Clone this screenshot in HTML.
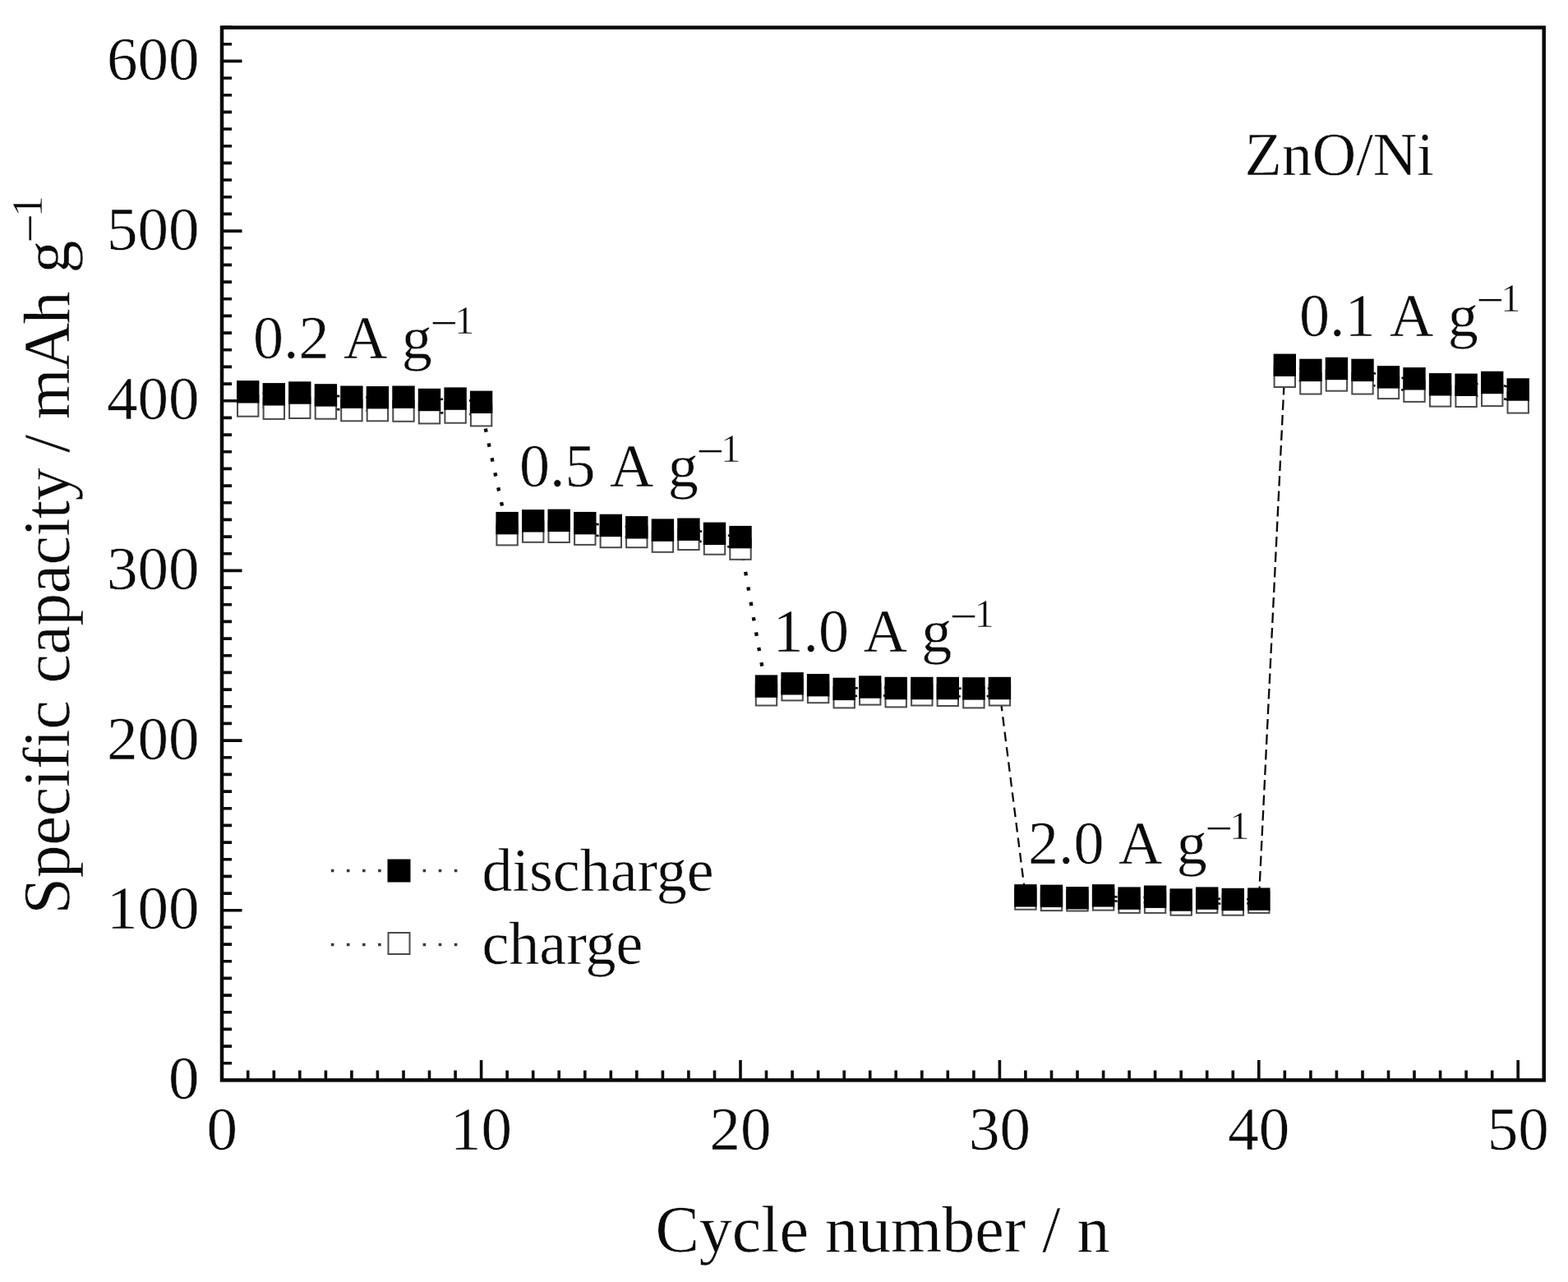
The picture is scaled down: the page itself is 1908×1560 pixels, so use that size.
<!DOCTYPE html>
<html lang="en"><head><meta charset="utf-8"><title>ZnO/Ni rate capability</title>
<style>html,body{margin:0;padding:0;background:#fff;}body{width:1908px;height:1560px;overflow:hidden;}svg{display:block;}text{font-family:"Liberation Serif", "DejaVu Serif", serif;fill:#0a0a0a;stroke:#ffffff;stroke-width:0.5px;}</style>
</head><body>
<svg width="1908" height="1560" viewBox="0 0 1908 1560" role="img" aria-label="Rate capability of ZnO/Ni: specific capacity versus cycle number">
<rect x="0" y="0" width="1908" height="1560" fill="#ffffff"/>
<path d="M270.0 1293.7h12.0M270.0 1273.1h12.0M270.0 1252.4h12.0M270.0 1231.7h12.0M270.0 1211.1h12.0M270.0 1190.4h12.0M270.0 1169.7h12.0M270.0 1149.1h12.0M270.0 1128.4h12.0M270.0 1107.7h24.5M270.0 1087.1h12.0M270.0 1066.4h12.0M270.0 1045.7h12.0M270.0 1025.1h12.0M270.0 1004.4h12.0M270.0 983.7h12.0M270.0 963.1h12.0M270.0 942.4h12.0M270.0 921.7h12.0M270.0 901.1h24.5M270.0 880.4h12.0M270.0 859.7h12.0M270.0 839.1h12.0M270.0 818.4h12.0M270.0 797.7h12.0M270.0 777.1h12.0M270.0 756.4h12.0M270.0 735.7h12.0M270.0 715.1h12.0M270.0 694.4h24.5M270.0 673.7h12.0M270.0 653.1h12.0M270.0 632.4h12.0M270.0 611.7h12.0M270.0 591.1h12.0M270.0 570.4h12.0M270.0 549.7h12.0M270.0 529.1h12.0M270.0 508.4h12.0M270.0 487.7h24.5M270.0 467.1h12.0M270.0 446.4h12.0M270.0 425.7h12.0M270.0 405.1h12.0M270.0 384.4h12.0M270.0 363.7h12.0M270.0 343.1h12.0M270.0 322.4h12.0M270.0 301.7h12.0M270.0 281.1h24.5M270.0 260.4h12.0M270.0 239.7h12.0M270.0 219.0h12.0M270.0 198.4h12.0M270.0 177.7h12.0M270.0 157.0h12.0M270.0 136.4h12.0M270.0 115.7h12.0M270.0 95.0h12.0M270.0 74.4h24.5M270.0 53.7h12.0M270.0 33.0h12.0M301.7 1314.4v-12.0M333.3 1314.4v-12.0M364.8 1314.4v-12.0M396.4 1314.4v-12.0M427.9 1314.4v-12.0M459.4 1314.4v-12.0M491.0 1314.4v-12.0M522.5 1314.4v-12.0M554.1 1314.4v-12.0M585.6 1314.4v-24.5M617.1 1314.4v-12.0M648.7 1314.4v-12.0M680.2 1314.4v-12.0M711.8 1314.4v-12.0M743.3 1314.4v-12.0M774.8 1314.4v-12.0M806.4 1314.4v-12.0M837.9 1314.4v-12.0M869.5 1314.4v-12.0M901.0 1314.4v-24.5M932.5 1314.4v-12.0M964.1 1314.4v-12.0M995.6 1314.4v-12.0M1027.2 1314.4v-12.0M1058.7 1314.4v-12.0M1090.2 1314.4v-12.0M1121.8 1314.4v-12.0M1153.3 1314.4v-12.0M1184.9 1314.4v-12.0M1216.4 1314.4v-24.5M1247.9 1314.4v-12.0M1279.5 1314.4v-12.0M1311.0 1314.4v-12.0M1342.6 1314.4v-12.0M1374.1 1314.4v-12.0M1405.6 1314.4v-12.0M1437.2 1314.4v-12.0M1468.7 1314.4v-12.0M1500.3 1314.4v-12.0M1531.8 1314.4v-24.5M1563.3 1314.4v-12.0M1594.9 1314.4v-12.0M1626.4 1314.4v-12.0M1658.0 1314.4v-12.0M1689.5 1314.4v-12.0M1721.0 1314.4v-12.0M1752.6 1314.4v-12.0M1784.1 1314.4v-12.0M1815.7 1314.4v-12.0M1847.2 1314.4v-24.5" stroke="#0a0a0a" stroke-width="3.6" fill="none"/>
<rect x="270.0" y="33.5" width="1608.7" height="1280.9" fill="none" stroke="#0a0a0a" stroke-width="4.5"/>
<g fill="none" stroke="#0a0a0a">
<polyline points="301.7,476.8 333.3,479.8 364.8,478.0 396.4,480.9 427.9,483.2 459.4,483.7 491.0,483.2 522.5,486.5 554.1,485.1 585.6,489.3" stroke-width="2.6" stroke-dasharray="4 14"/>
<polyline points="301.7,494.0 333.3,497.2 364.8,496.3 396.4,497.0 427.9,499.6 459.4,499.6 491.0,500.1 522.5,502.7 554.1,502.0 585.6,505.7" stroke-width="2.6" stroke-dasharray="4 14"/>
<polyline points="617.1,636.6 648.7,633.8 680.2,633.3 711.8,636.6 743.3,639.4 774.8,641.8 806.4,645.1 837.9,644.2 869.5,649.3 901.0,653.6" stroke-width="2.6" stroke-dasharray="4 14"/>
<polyline points="617.1,650.7 648.7,647.1 680.2,647.3 711.8,650.2 743.3,653.5 774.8,653.5 806.4,659.1 837.9,656.3 869.5,662.0 901.0,668.1" stroke-width="2.6" stroke-dasharray="4 14"/>
<polyline points="932.5,835.1 964.1,831.8 995.6,833.7 1027.2,838.4 1058.7,836.0 1090.2,837.5 1121.8,837.5 1153.3,837.5 1184.9,837.9 1216.4,837.5" stroke-width="2.6" stroke-dasharray="4 14"/>
<polyline points="932.5,845.8 964.1,839.7 995.6,842.5 1027.2,848.7 1058.7,844.9 1090.2,847.7 1121.8,845.8 1153.3,846.3 1184.9,848.7 1216.4,845.8" stroke-width="2.6" stroke-dasharray="4 14"/>
<polyline points="1247.9,1089.8 1279.5,1090.3 1311.0,1092.7 1342.6,1089.8 1374.1,1093.1 1405.6,1091.2 1437.2,1095.0 1468.7,1093.1 1500.3,1094.5 1531.8,1094.1" stroke-width="2.6" stroke-dasharray="4 14"/>
<polyline points="1247.9,1094.0 1279.5,1095.4 1311.0,1095.8 1342.6,1094.9 1374.1,1098.2 1405.6,1098.2 1437.2,1101.0 1468.7,1098.2 1500.3,1101.0 1531.8,1098.2" stroke-width="2.6" stroke-dasharray="4 14"/>
<polyline points="1563.3,444.3 1594.9,450.4 1626.4,448.5 1658.0,450.4 1689.5,458.9 1721.0,460.8 1752.6,467.8 1784.1,468.3 1815.7,465.5 1847.2,474.0" stroke-width="2.6" stroke-dasharray="4 14"/>
<polyline points="1563.3,458.3 1594.9,466.8 1626.4,463.0 1658.0,466.8 1689.5,472.4 1721.0,476.2 1752.6,481.9 1784.1,482.3 1815.7,481.4 1847.2,489.9" stroke-width="2.6" stroke-dasharray="4 14"/>
<line x1="585.6" y1="497.5" x2="617.1" y2="643.7" stroke-width="4.3" stroke-dasharray="4.4 13.95" stroke-dashoffset="12.2"/>
<line x1="901.0" y1="660.9" x2="932.5" y2="840.5" stroke-width="4.3" stroke-dasharray="4.4 14.25" stroke-dashoffset="1.7"/>
<line x1="1216.4" y1="841.6" x2="1247.9" y2="1091.9" stroke-width="2.3" stroke-dasharray="11.5 7.05" stroke-dashoffset="6.2"/>
<line x1="1531.8" y1="1096.2" x2="1563.3" y2="451.3" stroke-width="2.3" stroke-dasharray="12.5 6.02" stroke-dashoffset="13.3"/>
</g>
<g fill="#ffffff" stroke="#4a4a4a" stroke-width="2">
<rect x="289.0" y="481.3" width="25.4" height="25.4"/>
<rect x="320.6" y="484.5" width="25.4" height="25.4"/>
<rect x="352.1" y="483.6" width="25.4" height="25.4"/>
<rect x="383.7" y="484.3" width="25.4" height="25.4"/>
<rect x="415.2" y="486.9" width="25.4" height="25.4"/>
<rect x="446.7" y="486.9" width="25.4" height="25.4"/>
<rect x="478.3" y="487.4" width="25.4" height="25.4"/>
<rect x="509.8" y="490.0" width="25.4" height="25.4"/>
<rect x="541.4" y="489.3" width="25.4" height="25.4"/>
<rect x="572.9" y="493.0" width="25.4" height="25.4"/>
<rect x="604.4" y="638.0" width="25.4" height="25.4"/>
<rect x="636.0" y="634.4" width="25.4" height="25.4"/>
<rect x="667.5" y="634.6" width="25.4" height="25.4"/>
<rect x="699.1" y="637.5" width="25.4" height="25.4"/>
<rect x="730.6" y="640.8" width="25.4" height="25.4"/>
<rect x="762.1" y="640.8" width="25.4" height="25.4"/>
<rect x="793.7" y="646.4" width="25.4" height="25.4"/>
<rect x="825.2" y="643.6" width="25.4" height="25.4"/>
<rect x="856.8" y="649.3" width="25.4" height="25.4"/>
<rect x="888.3" y="655.4" width="25.4" height="25.4"/>
<rect x="919.8" y="833.1" width="25.4" height="25.4"/>
<rect x="951.4" y="827.0" width="25.4" height="25.4"/>
<rect x="982.9" y="829.8" width="25.4" height="25.4"/>
<rect x="1014.5" y="836.0" width="25.4" height="25.4"/>
<rect x="1046.0" y="832.2" width="25.4" height="25.4"/>
<rect x="1077.5" y="835.0" width="25.4" height="25.4"/>
<rect x="1109.1" y="833.1" width="25.4" height="25.4"/>
<rect x="1140.6" y="833.6" width="25.4" height="25.4"/>
<rect x="1172.2" y="836.0" width="25.4" height="25.4"/>
<rect x="1203.7" y="833.1" width="25.4" height="25.4"/>
<rect x="1235.2" y="1081.3" width="25.4" height="25.4"/>
<rect x="1266.8" y="1082.7" width="25.4" height="25.4"/>
<rect x="1298.3" y="1083.1" width="25.4" height="25.4"/>
<rect x="1329.9" y="1082.2" width="25.4" height="25.4"/>
<rect x="1361.4" y="1085.5" width="25.4" height="25.4"/>
<rect x="1392.9" y="1085.5" width="25.4" height="25.4"/>
<rect x="1424.5" y="1088.3" width="25.4" height="25.4"/>
<rect x="1456.0" y="1085.5" width="25.4" height="25.4"/>
<rect x="1487.6" y="1088.3" width="25.4" height="25.4"/>
<rect x="1519.1" y="1085.5" width="25.4" height="25.4"/>
<rect x="1550.6" y="445.6" width="25.4" height="25.4"/>
<rect x="1582.2" y="454.1" width="25.4" height="25.4"/>
<rect x="1613.7" y="450.3" width="25.4" height="25.4"/>
<rect x="1645.3" y="454.1" width="25.4" height="25.4"/>
<rect x="1676.8" y="459.7" width="25.4" height="25.4"/>
<rect x="1708.3" y="463.5" width="25.4" height="25.4"/>
<rect x="1739.9" y="469.2" width="25.4" height="25.4"/>
<rect x="1771.4" y="469.6" width="25.4" height="25.4"/>
<rect x="1803.0" y="468.7" width="25.4" height="25.4"/>
<rect x="1834.5" y="477.2" width="25.4" height="25.4"/>
</g>
<g fill="#000000">
<rect x="288.0" y="463.1" width="27.4" height="27.4"/>
<rect x="319.6" y="466.1" width="27.4" height="27.4"/>
<rect x="351.1" y="464.3" width="27.4" height="27.4"/>
<rect x="382.7" y="467.2" width="27.4" height="27.4"/>
<rect x="414.2" y="469.5" width="27.4" height="27.4"/>
<rect x="445.7" y="470.0" width="27.4" height="27.4"/>
<rect x="477.3" y="469.5" width="27.4" height="27.4"/>
<rect x="508.8" y="472.8" width="27.4" height="27.4"/>
<rect x="540.4" y="471.4" width="27.4" height="27.4"/>
<rect x="571.9" y="475.6" width="27.4" height="27.4"/>
<rect x="603.4" y="622.9" width="27.4" height="27.4"/>
<rect x="635.0" y="620.1" width="27.4" height="27.4"/>
<rect x="666.5" y="619.6" width="27.4" height="27.4"/>
<rect x="698.1" y="622.9" width="27.4" height="27.4"/>
<rect x="729.6" y="625.7" width="27.4" height="27.4"/>
<rect x="761.1" y="628.1" width="27.4" height="27.4"/>
<rect x="792.7" y="631.4" width="27.4" height="27.4"/>
<rect x="824.2" y="630.5" width="27.4" height="27.4"/>
<rect x="855.8" y="635.6" width="27.4" height="27.4"/>
<rect x="887.3" y="639.9" width="27.4" height="27.4"/>
<rect x="918.8" y="821.4" width="27.4" height="27.4"/>
<rect x="950.4" y="818.1" width="27.4" height="27.4"/>
<rect x="981.9" y="820.0" width="27.4" height="27.4"/>
<rect x="1013.5" y="824.7" width="27.4" height="27.4"/>
<rect x="1045.0" y="822.3" width="27.4" height="27.4"/>
<rect x="1076.5" y="823.8" width="27.4" height="27.4"/>
<rect x="1108.1" y="823.8" width="27.4" height="27.4"/>
<rect x="1139.6" y="823.8" width="27.4" height="27.4"/>
<rect x="1171.2" y="824.2" width="27.4" height="27.4"/>
<rect x="1202.7" y="823.8" width="27.4" height="27.4"/>
<rect x="1234.2" y="1076.1" width="27.4" height="27.4"/>
<rect x="1265.8" y="1076.6" width="27.4" height="27.4"/>
<rect x="1297.3" y="1079.0" width="27.4" height="27.4"/>
<rect x="1328.9" y="1076.1" width="27.4" height="27.4"/>
<rect x="1360.4" y="1079.4" width="27.4" height="27.4"/>
<rect x="1391.9" y="1077.5" width="27.4" height="27.4"/>
<rect x="1423.5" y="1081.3" width="27.4" height="27.4"/>
<rect x="1455.0" y="1079.4" width="27.4" height="27.4"/>
<rect x="1486.6" y="1080.8" width="27.4" height="27.4"/>
<rect x="1518.1" y="1080.4" width="27.4" height="27.4"/>
<rect x="1549.6" y="430.6" width="27.4" height="27.4"/>
<rect x="1581.2" y="436.7" width="27.4" height="27.4"/>
<rect x="1612.7" y="434.8" width="27.4" height="27.4"/>
<rect x="1644.3" y="436.7" width="27.4" height="27.4"/>
<rect x="1675.8" y="445.2" width="27.4" height="27.4"/>
<rect x="1707.3" y="447.1" width="27.4" height="27.4"/>
<rect x="1738.9" y="454.1" width="27.4" height="27.4"/>
<rect x="1770.4" y="454.6" width="27.4" height="27.4"/>
<rect x="1802.0" y="451.8" width="27.4" height="27.4"/>
<rect x="1833.5" y="460.3" width="27.4" height="27.4"/>
</g>
<g fill="none" stroke="#3a3a3a" stroke-width="3.4" stroke-dasharray="3.6 15.5">
<line x1="402.8" y1="1059.5" x2="466" y2="1059.5"/>
<line x1="514.6" y1="1059.5" x2="560" y2="1059.5"/>
<line x1="402.8" y1="1149.5" x2="466" y2="1149.5"/>
<line x1="514.6" y1="1149.5" x2="560" y2="1149.5"/>
</g>
<rect x="471.5" y="1045.5" width="28" height="28" fill="#000"/>
<rect x="472.5" y="1135" width="26" height="26" fill="#fff" stroke="#4a4a4a" stroke-width="2"/>
<text x="242.5" y="1336.9" font-size="75.0" text-anchor="end">0</text>
<text x="242.5" y="1130.2" font-size="75.0" text-anchor="end">100</text>
<text x="242.5" y="923.6" font-size="75.0" text-anchor="end">200</text>
<text x="242.5" y="716.9" font-size="75.0" text-anchor="end">300</text>
<text x="242.5" y="510.2" font-size="75.0" text-anchor="end">400</text>
<text x="242.5" y="303.6" font-size="75.0" text-anchor="end">500</text>
<text x="242.5" y="96.9" font-size="75.0" text-anchor="end">600</text>
<text x="270.2" y="1399.0" font-size="75.0" text-anchor="middle">0</text>
<text x="585.6" y="1399.0" font-size="75.0" text-anchor="middle">10</text>
<text x="901.0" y="1399.0" font-size="75.0" text-anchor="middle">20</text>
<text x="1216.4" y="1399.0" font-size="75.0" text-anchor="middle">30</text>
<text x="1531.8" y="1399.0" font-size="75.0" text-anchor="middle">40</text>
<text x="1847.2" y="1399.0" font-size="75.0" text-anchor="middle">50</text>
<text x="1074.0" y="1523.3" font-size="80.0" text-anchor="middle">Cycle number / n</text>
<text transform="translate(84.4 0) rotate(-90)" font-size="80"><tspan x="-1112.5" letter-spacing="-0.25">Specific</tspan> <tspan x="-831.5" letter-spacing="-0.65">capacity</tspan> <tspan x="-551">/</tspan> <tspan x="-510.5" letter-spacing="-2.0">mAh</tspan> <tspan x="-332.5">g</tspan><tspan font-size="64" x="-296" dy="-26">−</tspan><tspan font-size="52" x="-264" dy="-7.6">1</tspan></text>
<text x="308.0" y="436.4" font-size="74" word-spacing="3">0.2 A g<tspan font-size="60" dx="-2.5" dy="-23.5">−</tspan><tspan font-size="48" dx="-4" dy="-6.5">1</tspan></text>
<text x="632.0" y="592.2" font-size="74" word-spacing="3">0.5 A g<tspan font-size="60" dx="-2.5" dy="-23.5">−</tspan><tspan font-size="48" dx="-4" dy="-6.5">1</tspan></text>
<text x="940.5" y="793.0" font-size="74" word-spacing="3">1.0 A g<tspan font-size="60" dx="-2.5" dy="-23.5">−</tspan><tspan font-size="48" dx="-4" dy="-6.5">1</tspan></text>
<text x="1251.0" y="1051.4" font-size="74" word-spacing="3">2.0 A g<tspan font-size="60" dx="-2.5" dy="-23.5">−</tspan><tspan font-size="48" dx="-4" dy="-6.5">1</tspan></text>
<text x="1581.0" y="408.8" font-size="74" word-spacing="3">0.1 A g<tspan font-size="60" dx="-2.5" dy="-23.5">−</tspan><tspan font-size="48" dx="-4" dy="-6.5">1</tspan></text>
<text x="1514.5" y="213.4" font-size="74.0" text-anchor="start">ZnO/Ni</text>
<text x="586.5" y="1083.6" font-size="74.0" text-anchor="start">discharge</text>
<text x="586.5" y="1172.7" font-size="74.0" text-anchor="start">charge</text>
</svg>
</body></html>
